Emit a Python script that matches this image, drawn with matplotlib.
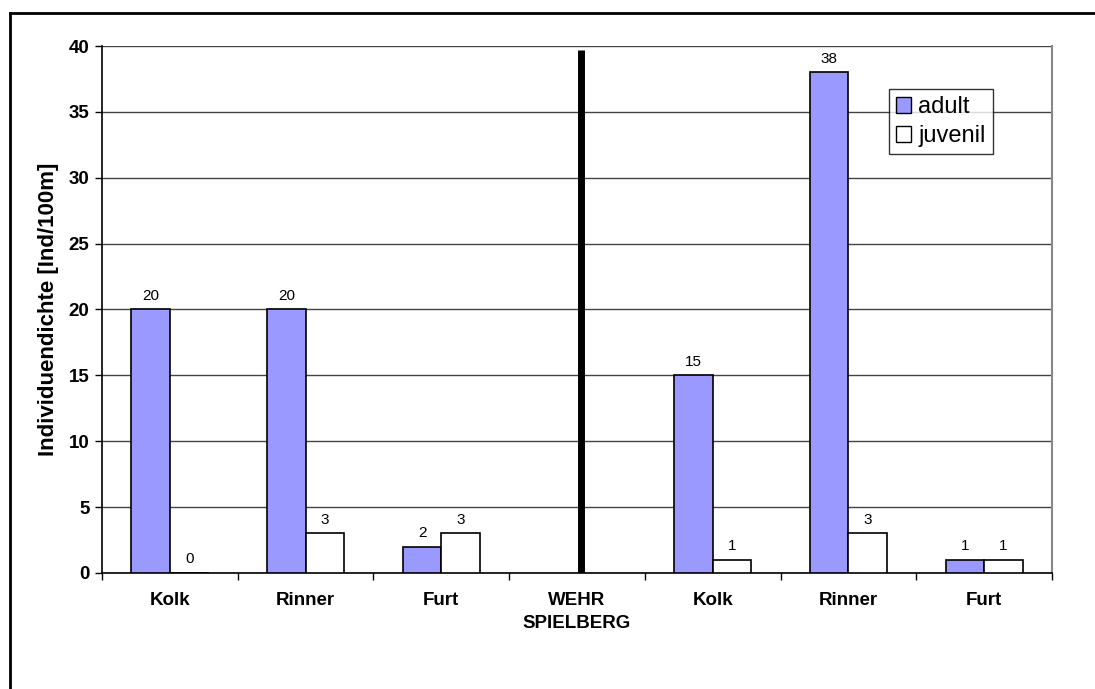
import matplotlib
matplotlib.use("Agg")
import matplotlib.pyplot as plt
import numpy as np
from matplotlib.lines import Line2D

plt.rcParams["font.family"] = ["Liberation Sans", "DejaVu Sans"]

categories = ["Kolk", "Rinner", "Furt", "WEHR\nSPIELBERG", "Kolk", "Rinner", "Furt"]
adult = [20, 20, 2, None, 15, 38, 1]
juvenil = [0, 3, 3, None, 1, 3, 1]
weir_index = 3
weir_height = 39.7

BAR_W = 0.285
ADULT_COLOR = "#9999FF"

fig = plt.figure(figsize=(10.95, 6.89), dpi=100)
ax = fig.add_axes([0.0932, 0.1684, 0.8676, 0.7648])

x = np.arange(len(categories))
for i, (a, j) in enumerate(zip(adult, juvenil)):
    if a is None:
        continue
    ax.bar(x[i] - BAR_W / 2, a, BAR_W, color=ADULT_COLOR, edgecolor="black",
           linewidth=1.2, zorder=3)
    ax.bar(x[i] + BAR_W / 2, j, BAR_W, color="white", edgecolor="black",
           linewidth=1.2, zorder=3)
    ax.text(x[i] - BAR_W / 2, a + 0.5, str(a), ha="center", va="bottom", fontsize=11)
    ax.text(x[i] + BAR_W / 2, j + 0.5, str(j), ha="center", va="bottom", fontsize=11)

# weir marker between the upstream and downstream reaches
ax.plot([x[weir_index] + 0.03] * 2, [0, weir_height], color="black", lw=5,
        solid_capstyle="butt", zorder=4)

ax.set_xlim(-0.5, len(categories) - 0.5)
ax.set_ylim(0, 40)
ax.set_yticks(np.arange(0, 41, 5))
ax.set_yticklabels([str(v) for v in range(0, 41, 5)], fontsize=13.5, fontweight="bold")
ax.yaxis.grid(True, color="#444444", linewidth=1)
ax.set_axisbelow(True)

ax.set_xticks(x)
ax.set_xticklabels(categories, fontsize=13.5, fontweight="bold", linespacing=1.4)
ax.set_xticks(np.arange(-0.5, len(categories)), minor=True)
ax.tick_params(axis="x", which="major", length=0, pad=14)
ax.tick_params(axis="x", which="minor", length=5, width=1, direction="out")
ax.tick_params(axis="y", length=5, width=1, direction="out", pad=4)

ax.set_ylabel("Individuendichte [Ind/100m]", fontsize=16, fontweight="bold", labelpad=7)

for side in ["left", "bottom"]:
    ax.spines[side].set_color("black")
    ax.spines[side].set_linewidth(1.2)
ax.spines["top"].set_visible(False)
ax.spines["right"].set_color("#888888")
ax.spines["right"].set_linewidth(1.5)

leg = ax.legend(
    handles=[
        plt.Rectangle((0, 0), 1, 1, facecolor=ADULT_COLOR, edgecolor="black"),
        plt.Rectangle((0, 0), 1, 1, facecolor="white", edgecolor="black"),
    ],
    labels=["adult", "juvenil"],
    loc="upper left", bbox_to_anchor=(0.828, 0.918), fontsize=17,
    frameon=True, fancybox=False, handlelength=0.65, handleheight=0.65,
    handletextpad=0.3, borderpad=0.3, labelspacing=0.3, borderaxespad=0,
)
leg.get_frame().set_edgecolor("black")
leg.get_frame().set_linewidth(1)
leg.set_zorder(5)

# outer chart frame (top and left edges)
fig.add_artist(Line2D([10 / 1095, 1.0], [1 - 12.5 / 689] * 2, color="black", lw=2))
fig.add_artist(Line2D([10 / 1095] * 2, [0, 1 - 12.5 / 689], color="black", lw=2))

fig.savefig("out.png", dpi=100)
